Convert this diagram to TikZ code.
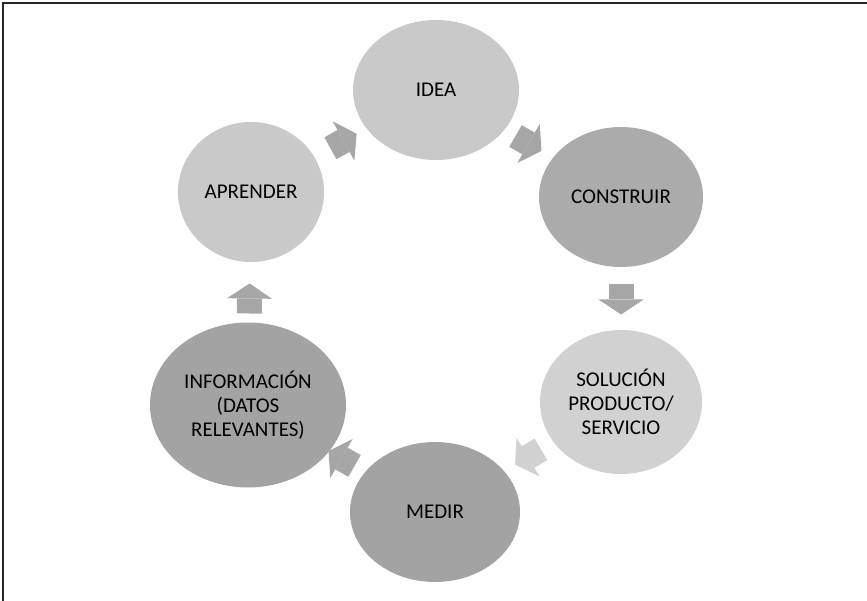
\documentclass[tikz,border=0pt]{standalone}
\usepackage{fontspec}
\setmainfont{Carlito}
\usetikzlibrary{shapes.geometric,arrows.meta,calc}

\definecolor{grisclaro}{gray}{0.79}
\definecolor{grismedio}{gray}{0.67}
\definecolor{grisoscuro}{gray}{0.64}
\definecolor{grispalido}{gray}{0.82}
\definecolor{grisflecha}{gray}{0.65}

\tikzset{
  etapa/.style={ellipse, fill=#1, draw=none, inner sep=0pt, align=center,
    text=black, font=\fontsize{21}{24}\selectfont},
  flecha/.style={line width=25pt, draw=#1,
    -{Triangle[length=15pt,width=45pt,line width=0pt 0 0]}},
  flecha/.default=grisflecha
}

\begin{document}
\begin{tikzpicture}[x=1pt,y=-1pt]
    \useasboundingbox (0,0) rectangle (867,601);
    \draw[line width=2pt, black!85] (2.5,601) -- (2.5,3.5) -- (867,3.5);

    % the six stages of the cycle
    \node[etapa=grisclaro, minimum width=166pt, minimum height=140pt] (idea) at (436,90) {IDEA};
    \node[etapa=grismedio, minimum width=164pt, minimum height=140pt] (construir) at (621,197) {CONSTRUIR};
    \node[etapa=grispalido, minimum width=162pt, minimum height=144pt] (solucion) at (621,402) {SOLUCIÓN\\PRODUCTO/\\SERVICIO};
    \node[etapa=grisoscuro, minimum width=170pt, minimum height=140pt] (medir) at (435,512) {MEDIR};
    \node[etapa=grisoscuro, minimum width=196pt, minimum height=165pt] (informacion) at (248,405) {INFORMACIÓN\\(DATOS\\RELEVANTES)};
    \node[etapa=grisclaro, minimum width=146pt, minimum height=140pt] (aprender) at (251,192) {APRENDER};

    % block arrows halfway between neighbours
    \draw[flecha] ($(idea)!.5!(construir)!15pt!(idea)$) -- ($(idea)!.5!(construir)!15pt!(construir)$);
    \draw[flecha] ($(construir)!.5!(solucion)!15pt!(construir)$) -- ($(construir)!.5!(solucion)!15pt!(solucion)$);
    \draw[flecha=grispalido] ($(solucion)!.5!(medir)!15pt!(solucion)$) -- ($(solucion)!.5!(medir)!15pt!(medir)$);
    \draw[flecha] ($(medir)!.5!(informacion)!15pt!(medir)$) -- ($(medir)!.5!(informacion)!15pt!(informacion)$);
    \draw[flecha] ($(informacion)!.5!(aprender)!15pt!(informacion)$) -- ($(informacion)!.5!(aprender)!15pt!(aprender)$);
    \draw[flecha] ($(aprender)!.5!(idea)!15pt!(aprender)$) -- ($(aprender)!.5!(idea)!15pt!(idea)$);
\end{tikzpicture}
\end{document}
